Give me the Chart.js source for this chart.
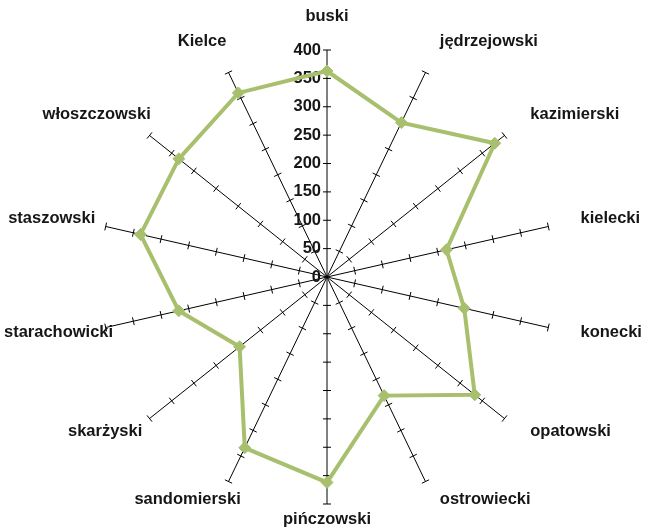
<!DOCTYPE html>
<html>
<head>
<meta charset="utf-8">
<script src="https://cdn.jsdelivr.net/npm/chart.js@4"></script>
<style>
  html, body { margin: 0; padding: 0; background: #fff; }
  #wrap { width: 649px; height: 528px; }
</style>
</head>
<body>
<div id="wrap"><canvas id="chart"></canvas></div>
<script>
var categories = ['buski', 'jędrzejowski', 'kazimierski', 'kielecki', 'konecki', 'opatowski', 'ostrowiecki',
  'pińczowski', 'sandomierski', 'skarżyski', 'starachowicki', 'staszowski', 'włoszczowski', 'Kielce'];
var values = [363, 302, 378, 216, 248, 333, 232, 362, 334, 197, 268, 337, 334, 360];
var tickValues = [0, 50, 100, 150, 200, 250, 300, 350, 400];

var lineColor = '#a8c06e';
var textColor = '#161616';
var labelFont = 'bold 16.5px "Liberation Sans", Arial, sans-serif';

// tick marks across every spoke, tick numbers on the vertical one, category labels
var radarDecor = {
  id: 'radarDecor',
  beforeDatasetsDraw: function (chart) {
    var scale = chart.scales.r;
    var ctx = chart.ctx;
    ctx.save();
    ctx.strokeStyle = '#000';
    ctx.lineWidth = 1;
    for (var i = 0; i < categories.length; i++) {
      var a = scale.getIndexAngle(i) - Math.PI / 2;
      var nx = -Math.sin(a), ny = Math.cos(a);
      for (var j = 1; j < tickValues.length; j++) {
        var p = scale.getPointPosition(i, scale.getDistanceFromCenterForValue(tickValues[j]));
        ctx.beginPath();
        ctx.moveTo(p.x - nx * 4, p.y - ny * 4);
        ctx.lineTo(p.x + nx * 4, p.y + ny * 4);
        ctx.stroke();
      }
    }

    ctx.font = labelFont;
    ctx.fillStyle = textColor;
    ctx.textAlign = 'right';
    ctx.textBaseline = 'middle';
    for (var k = 0; k < tickValues.length; k++) {
      var d = scale.getDistanceFromCenterForValue(tickValues[k]);
      ctx.fillText(String(tickValues[k]), scale.xCenter - 6, scale.yCenter - d);
    }
    ctx.restore();
  },
  afterDraw: function (chart) {
    var scale = chart.scales.r;
    var ctx = chart.ctx;
    var R = scale.drawingArea;
    ctx.save();
    ctx.font = labelFont;
    ctx.fillStyle = textColor;
    ctx.textAlign = 'center';
    ctx.textBaseline = 'middle';
    for (var i = 0; i < categories.length; i++) {
      var a = scale.getIndexAngle(i) - Math.PI / 2;
      var c = Math.cos(a), s = Math.sin(a);
      var ry = s < 0 ? R + 26 : R + 12;
      var ax = scale.xCenter + c * (R + 33);
      var ay = scale.yCenter + s * ry;
      var w = ctx.measureText(categories[i]).width, h = 16;
      var cx = ax + (c > 0.05 ? w / 2 : (c < -0.05 ? -w / 4 : 0));
      var cy = ay + s * h / 2;
      cx = Math.max(w / 2 + 4, Math.min(chart.width - w / 2 - 2, cx));
      cy = Math.max(h / 2 + 2, Math.min(chart.height - h / 2 - 1, cy));
      ctx.fillText(categories[i], cx, cy);
    }
    ctx.restore();
  }
};

var ctx = document.getElementById('chart').getContext('2d');
var chart = new Chart(ctx, {
  type: 'radar',
  data: {
    labels: categories,
    datasets: [
      {
        data: values,
        borderColor: lineColor,
        backgroundColor: lineColor,
        borderWidth: 4,
        fill: false,
        tension: 0,
        pointStyle: 'rectRot',
        pointRadius: 6,
        pointBackgroundColor: lineColor,
        pointBorderColor: lineColor,
        pointBorderWidth: 1,
      },
    ],
  },
  options: {
    responsive: true,
    maintainAspectRatio: false,
    animation: false,
    layout: { padding: { top: 50, bottom: 24, left: 5, right: 0 } },
    plugins: {
      legend: { display: false },
      tooltip: { enabled: false },
    },
    scales: {
      r: {
        min: 0,
        max: 400,
        ticks: { display: false, stepSize: 50 },
        grid: { display: false },
        angleLines: { display: true, color: '#000', lineWidth: 1 },
        pointLabels: { display: false },
      },
    },
  },
  plugins: [radarDecor],
});
</script>
</body>
</html>
